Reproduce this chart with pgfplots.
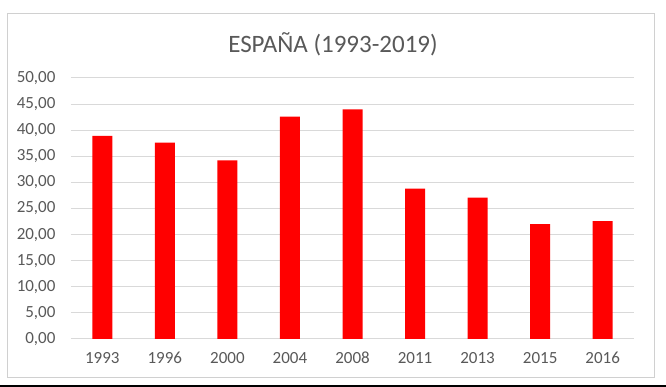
\documentclass[border=0pt]{standalone}
\usepackage{pgfplots}
\pgfplotsset{compat=1.18}
\usepackage{fontspec}
\setmainfont{Carlito}
\definecolor{txt}{HTML}{595959}
\definecolor{grd}{HTML}{D9D9D9}
\definecolor{frm}{HTML}{D0D0D0}
\begin{document}
\begin{tikzpicture}[x=1pt,y=1pt]
\useasboundingbox (0,0) rectangle (666,387);
\fill[white] (0,0) rectangle (666,387);
\draw[frm, line width=1pt] (7,9) rectangle (654,373);
\draw[black, line width=2pt] (0,1) -- (666,1);
\node[text=txt, font=\fontsize{25}{29}\selectfont] at (333,343) {ESPAÑA (1993-2019)};
\begin{axis}[
  at={(71pt,48pt)}, anchor=south west,
  scale only axis, width=563pt, height=261pt,
  ybar, bar width=20pt,
  xmin=-0.5, xmax=8.5, ymin=0, ymax=50,
  ytick={0,5,...,50},
  xtick=data,
  xticklabels={1993,1996,2000,2004,2008,2011,2013,2015,2016},
  ymajorgrids, grid style={grd, line width=1pt},
  axis line style={draw=none},
  major tick length=0pt,
  tick label style={text=txt, font=\fontsize{17}{20}\selectfont},
  /pgf/number format/fixed, /pgf/number format/fixed zerofill,
  /pgf/number format/precision=2, /pgf/number format/use comma,
  /pgf/number format/assume math mode=true,
  xticklabel style={anchor=base, yshift=-25pt},
  yticklabel style={xshift=-12pt},
]
\addplot[fill=red, draw=none] coordinates {
(0,38.9) (1,37.6) (2,34.2) (3,42.6) (4,44.0) (5,28.8) (6,27.1) (7,22.0) (8,22.6)};
\end{axis}
\end{tikzpicture}
\end{document}
